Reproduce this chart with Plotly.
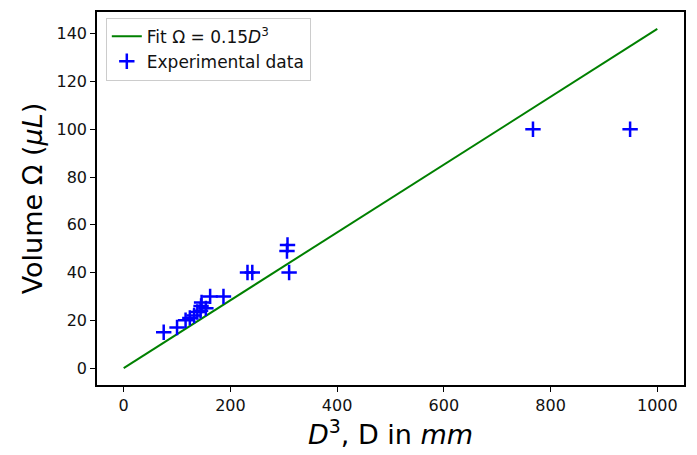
import plotly.graph_objects as go

fit_slope = 0.142
fit_x = [0, 1000]
data_x = [75, 100, 116, 124, 132, 138, 144, 145, 146, 154, 162, 187, 232, 241, 306, 307, 310, 767, 949]
data_y = [15, 17, 20, 21, 22, 23.5, 24, 26, 27.5, 25, 30, 30, 40, 40, 49, 51.5, 40, 100, 100]
x_ticks = [0, 200, 400, 600, 800, 1000]
y_ticks = [0, 20, 40, 60, 80, 100, 120, 140]

fit_y = [fit_slope * v for v in fit_x]

fig = go.Figure()
fig.add_trace(go.Scatter(x=fit_x, y=fit_y, mode="lines",
                         line=dict(color="#008000", width=2),
                         name="Fit Ω = 0.15<i>D</i><sup>3</sup>"))
fig.add_trace(go.Scatter(x=data_x, y=data_y, mode="markers",
                         marker=dict(symbol="cross-thin", size=11,
                                     line=dict(color="#0000ff", width=2.5), color="#0000ff"),
                         name="Experimental data"))

axis_common = dict(showgrid=False, zeroline=False, showline=True, linecolor="black",
                   linewidth=1.5, mirror=True, ticks="outside", ticklen=5, tickwidth=1.2,
                   tickcolor="black", tickfont=dict(family="DejaVu Sans", size=16, color="#111"))
fig.update_xaxes(range=[-50, 1050], tickvals=x_ticks,
                 title=dict(text="<i>D</i><sup>3</sup>, D in <i>mm</i>",
                            font=dict(family="DejaVu Sans", size=27, color="black"), standoff=4),
                 **axis_common)
fig.update_yaxes(range=[-7.1, 149.1], tickvals=y_ticks,
                 title=dict(text="Volume Ω (<i>μL</i>)",
                            font=dict(family="DejaVu Sans", size=27, color="black"), standoff=6),
                 **axis_common)
fig.update_layout(width=697, height=455, margin=dict(l=97, r=13, t=10, b=70),
                  plot_bgcolor="white", paper_bgcolor="white",
                  font=dict(family="DejaVu Sans"),
                  legend=dict(x=0.015, y=0.985, xanchor="left", yanchor="top",
                              bgcolor="white", bordercolor="#cccccc", borderwidth=1,
                              font=dict(family="DejaVu Sans", size=17, color="#111")),
                  showlegend=True)
fig.write_html("out.html")
